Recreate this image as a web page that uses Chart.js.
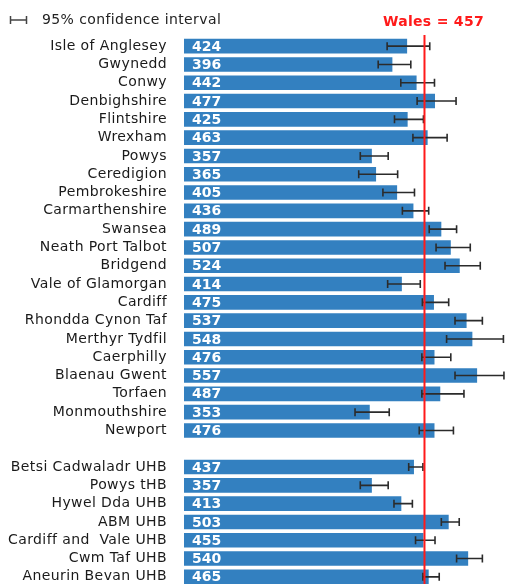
<!DOCTYPE html>
<html>
<head>
<meta charset="utf-8">
<script src="https://cdn.jsdelivr.net/npm/chart.js@4"></script>
<style>
  html, body { margin: 0; padding: 0; background: #fff; overflow: hidden; }
  canvas { display: block; }
</style>
</head>
<body>
<canvas id="chart" width="505" height="586"></canvas>
<script>
// ===== DATA =====
const areas = [
  'Isle of Anglesey', 'Gwynedd', 'Conwy', 'Denbighshire', 'Flintshire', 'Wrexham',
  'Powys', 'Ceredigion', 'Pembrokeshire', 'Carmarthenshire', 'Swansea',
  'Neath Port Talbot', 'Bridgend', 'Vale of Glamorgan', 'Cardiff',
  'Rhondda Cynon Taf', 'Merthyr Tydfil', 'Caerphilly', 'Blaenau Gwent',
  'Torfaen', 'Monmouthshire', 'Newport', '',
  'Betsi Cadwaladr UHB', 'Powys tHB', 'Hywel Dda UHB', 'ABM UHB',
  'Cardiff and  Vale UHB', 'Cwm Taf UHB', 'Aneurin Bevan UHB'
];
const rates = [
  424, 396, 442, 477, 425, 463, 357, 365, 405, 436, 489,
  507, 524, 414, 475, 537, 548, 476, 557, 487, 353, 476, null,
  437, 357, 413, 503, 455, 540, 465
];
const ciLow = [
  386, 369, 412, 443, 400, 435, 335, 332, 378, 415, 466,
  479, 496, 387, 453, 515, 499, 452, 515, 452, 325, 447, null,
  427, 335, 399, 489, 440, 518, 454
];
const ciHigh = [
  467, 431, 476, 517, 455, 500, 388, 406, 438, 465, 518,
  544, 563, 449, 503, 567, 607, 507, 608, 532, 390, 512, null,
  454, 388, 434, 523, 477, 567, 485
];
const walesRate = 457;
const walesLabel = 'Wales = ' + walesRate;
const legendText = '95% confidence interval';

const FONT = '"DejaVu Sans", Verdana, sans-serif';

/**
 * Slightly open letter spacing for all text, like the original rendering
 */
const spacingPlugin = {
  id: 'spacing',
  beforeDraw(chart) {
    chart.ctx.letterSpacing = '0.4px';
  }
};

/**
 * Draws error bars, the Wales reference line, the value labels and the legend
 */
const overlayPlugin = {
  id: 'overlay',
  afterDatasetsDraw(chart) {
    const ctx = chart.ctx;
    const x = chart.scales.x;
    const area = chart.chartArea;
    const bars = chart.getDatasetMeta(0).data;

    // Confidence intervals
    ctx.save();
    ctx.strokeStyle = '#2b2b2b';
    ctx.lineWidth = 1.6;
    bars.forEach((bar, i) => {
      if (rates[i] == null) return;
      const x1 = x.getPixelForValue(ciLow[i]);
      const x2 = x.getPixelForValue(ciHigh[i]);
      const y = bar.y;
      ctx.beginPath();
      ctx.moveTo(x1, y); ctx.lineTo(x2, y);
      ctx.moveTo(x1, y - 4); ctx.lineTo(x1, y + 4);
      ctx.moveTo(x2, y - 4); ctx.lineTo(x2, y + 4);
      ctx.stroke();
    });
    ctx.restore();

    // Wales line
    const wx = x.getPixelForValue(walesRate);
    ctx.save();
    ctx.strokeStyle = '#ff1a1a';
    ctx.lineWidth = 2;
    ctx.beginPath();
    ctx.moveTo(wx, area.top - 2);
    ctx.lineTo(wx, chart.height);
    ctx.stroke();
    ctx.fillStyle = '#ff1a1a';
    ctx.font = 'bold 14px ' + FONT;
    ctx.letterSpacing = '0.3px';
    ctx.textAlign = 'center';
    ctx.textBaseline = 'middle';
    ctx.fillText(walesLabel, wx + 9, 22);
    ctx.restore();

    // Values inside bars
    ctx.save();
    ctx.fillStyle = '#ffffff';
    ctx.font = 'bold 14px ' + FONT;
    ctx.letterSpacing = '0px';
    ctx.textAlign = 'left';
    ctx.textBaseline = 'middle';
    bars.forEach((bar, i) => {
      if (rates[i] == null) return;
      ctx.fillText(String(rates[i]), bar.base + 8, bar.y + 1);
    });
    ctx.restore();

    // Legend
    ctx.save();
    ctx.strokeStyle = '#444';
    ctx.lineWidth = 1.5;
    ctx.beginPath();
    ctx.moveTo(10, 20); ctx.lineTo(27, 20);
    ctx.moveTo(10.5, 16); ctx.lineTo(10.5, 24);
    ctx.moveTo(26.5, 16); ctx.lineTo(26.5, 24);
    ctx.stroke();
    ctx.fillStyle = '#222';
    ctx.font = '14px ' + FONT;
    ctx.letterSpacing = '0.4px';
    ctx.textAlign = 'left';
    ctx.textBaseline = 'middle';
    ctx.fillText(legendText, 42, 20);
    ctx.restore();
  }
};

new Chart(document.getElementById('chart'), {
  type: 'bar',
  data: {
    labels: areas,
    datasets: [{
      data: rates,
      backgroundColor: '#3380c0',
      borderWidth: 0,
      barPercentage: 0.8,
      categoryPercentage: 1.0
    }]
  },
  options: {
    indexAxis: 'y',
    responsive: false,
    devicePixelRatio: 1,
    animation: false,
    layout: { padding: { top: 37, left: 0, right: 0, bottom: 0 } },
    plugins: {
      legend: { display: false },
      tooltip: { enabled: false }
    },
    scales: {
      x: {
        display: false,
        min: 0,
        max: 610
      },
      y: {
        grid: { display: false, drawTicks: false },
        border: { display: false },
        ticks: {
          padding: 17,
          color: '#1a1a1a',
          font: { family: FONT, size: 14 },
          autoSkip: false
        },
        afterFit(scale) {
          // fixed axis width, and no extra room for label overhang
          scale.width = 184;
          scale.paddingTop = 0;
          scale.paddingBottom = 0;
        }
      }
    }
  },
  plugins: [spacingPlugin, overlayPlugin]
});
</script>
</body>
</html>
